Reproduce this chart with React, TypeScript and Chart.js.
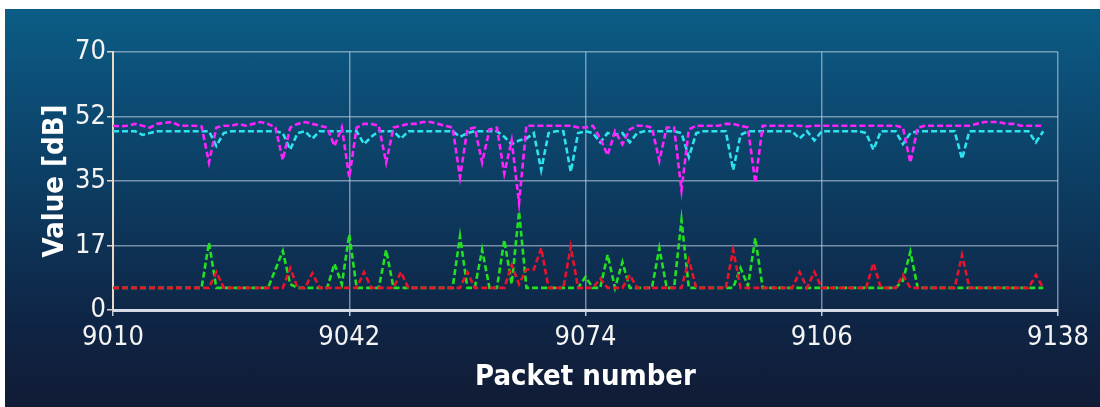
import React, { useEffect, useRef } from "react";
import { Chart, registerables } from "chart.js";

Chart.register(...registerables);

const firstPacket = 9010;
const xTickValues = [9010, 9042, 9074, 9106, 9138];
const yTickValues = [0, 17.5, 35, 52.5, 70];

// packets 9010 .. 9136
const magentaValues = [
  50, 49.8, 50, 50.5, 50, 49.5, 50.5, 50.8, 51, 50,
  50, 50, 49.8, 40, 49.5, 50, 50, 50.5, 50, 50.5,
  51, 50.5, 49.5, 40.7, 49.5, 50.5, 51, 50.5, 50, 49.5,
  44.5, 49.5, 36, 49.5, 50.5, 50.5, 50, 40, 49.5, 50,
  50.5, 50.5, 51, 51, 50.5, 50, 49.5, 36, 49, 49.5,
  40, 49, 49.5, 37, 46, 29, 50, 50, 50, 50,
  50, 50, 50, 49.5, 49.5, 50, 46.5, 42, 48.5, 45,
  49, 50, 50, 49.5, 40.5, 49.5, 49.5, 32.5, 49, 50,
  50, 50, 50, 50.5, 50.5, 50, 49.5, 34.5, 50, 50,
  50, 50, 50, 50, 49.8, 50, 50, 50, 50, 50,
  50, 50, 50, 50, 50, 50, 50, 49.5, 40, 49.5,
  50, 50, 50, 50, 50, 50, 50, 50.5, 51, 51,
  51, 50.5, 50.5, 50, 50, 50, 50,
];

const cyanValues = [
  48.5, 48.5, 48.5, 48.5, 47.5, 48, 48.5, 48.5, 48.5, 48.5,
  48.5, 48.5, 48.5, 48.5, 44.5, 48, 48.5, 48.5, 48.5, 48.5,
  48.5, 48.5, 48.5, 48, 43.5, 48, 48.5, 46.5, 48.5, 48.5,
  48.5, 48.5, 48.5, 48.5, 45, 47, 48.5, 48.5, 48.5, 46.5,
  48.5, 48.5, 48.5, 48.5, 48.5, 48.5, 48.5, 47, 48, 48.5,
  48.5, 48.5, 48.5, 47, 45, 46, 46.5, 48, 38, 48,
  48.5, 48.5, 37.5, 48, 48.5, 48, 45.5, 48, 47.5, 48,
  45.5, 48, 48.5, 48.5, 48.5, 48.5, 48.5, 48, 41.5, 48,
  48.5, 48.5, 48.5, 48.5, 38, 47.5, 48.5, 48.5, 48.5, 48.5,
  48.5, 48.5, 48.5, 46.5, 48.5, 46, 48.5, 48.5, 48.5, 48.5,
  48.5, 48.5, 48, 43.5, 48.5, 48.5, 48.5, 45, 48, 48.5,
  48.5, 48.5, 48.5, 48.5, 48.5, 41, 48.5, 48.5, 48.5, 48.5,
  48.5, 48.5, 48.5, 48.5, 48.5, 45.5, 48.5,
];

const greenValues = [
  6, 6, 6, 6, 6, 6, 6, 6, 6, 6,
  6, 6, 6, 18.3, 6, 6, 6, 6, 6, 6,
  6, 6, 11, 16, 7, 6, 6, 6, 6, 6,
  12.5, 7, 20.5, 6, 6, 6, 6, 16.3, 6, 6,
  6, 6, 6, 6, 6, 6, 6, 20, 6, 6,
  16.3, 6, 6, 19, 7, 26.7, 6, 6, 6, 6,
  6, 6, 6, 6, 9, 6, 6, 15, 6, 13,
  6, 6, 6, 6, 16.8, 6, 6, 24.4, 6, 6,
  6, 6, 6, 6, 6, 11.4, 6.5, 19.5, 6, 6,
  6, 6, 6, 6, 6, 6, 6, 6, 6, 6,
  6, 6, 6, 6, 6, 6, 6, 8, 15.8, 6,
  6, 6, 6, 6, 6, 6, 6, 6, 6, 6,
  6, 6, 6, 6, 6, 6, 6,
];

const redValues = [
  6, 6, 6, 6, 6, 6, 6, 6, 6, 6,
  6, 6, 6, 6, 10.3, 6, 6, 6, 6, 6,
  6, 6, 6, 6, 11.4, 6, 6, 10, 6, 6,
  6, 6, 6, 6, 10.3, 6, 6, 6, 6, 10.3,
  6, 6, 6, 6, 6, 6, 6, 6, 10.3, 6,
  6, 6, 6, 6, 12.2, 7, 11, 11, 16.8, 6,
  6, 6, 17.2, 6, 6, 6, 8.5, 6, 6, 6,
  9.5, 6, 6, 6, 6, 6, 6, 6, 13.6, 6,
  6, 6, 6, 6, 16.3, 6, 6, 6, 6, 6,
  6, 6, 6, 10.3, 6, 10.3, 6, 6, 6, 6,
  6, 6, 6, 12.7, 6, 6, 6, 9.5, 6, 6,
  6, 6, 6, 6, 6, 14.9, 6, 6, 6, 6,
  6, 6, 6, 6, 6, 9.5, 6,
];

const seriesNames = ["Magenta", "Cyan", "Red", "Green"];
const seriesColors = ["#ff22ff", "#2ee2ee", "#e8142c", "#22e022"];

const tickFont = { family: '"DejaVu Sans Condensed", "DejaVu Sans", sans-serif', size: 27 };
const titleFont = { family: '"DejaVu Sans Condensed", "DejaVu Sans", sans-serif', size: 29, weight: "bold" as const };

export default function App() {
  const canvasRef = useRef<HTMLCanvasElement | null>(null);

  useEffect(() => {
    if (!canvasRef.current) return;
    const toPoints = (vals: number[]) => vals.map((v, i) => ({ x: firstPacket + i, y: v }));
    const seriesValues = [magentaValues, cyanValues, redValues, greenValues];
    const chart = new Chart(canvasRef.current, {
      type: "line",
      data: {
        datasets: seriesValues.map((vals, i) => ({
          label: seriesNames[i],
          data: toPoints(vals),
          borderColor: seriesColors[i],
          backgroundColor: seriesColors[i],
          borderWidth: 2.6,
          borderDash: [6, 3],
          pointRadius: 0,
          tension: 0,
          fill: false,
        })),
      },
      options: {
        animation: false,
        responsive: false,
        layout: { padding: { top: 43, right: 42, left: 0, bottom: 0 } },
        plugins: { legend: { display: false }, tooltip: { enabled: false } },
        scales: {
          x: {
            type: "linear",
            min: 9010,
            max: 9138,
            afterBuildTicks: (scale: any) => {
              scale.ticks = xTickValues.map((v) => ({ value: v }));
            },
            afterFit: (scale: any) => {
              scale.height = 97;
            },
            ticks: {
              color: "#f4f4f4",
              font: tickFont,
              padding: 6,
              maxRotation: 0,
              autoSkip: false,
              callback: (v: any) => String(v),
            },
            grid: {
              color: "rgba(190,205,222,0.6)",
              lineWidth: 1.5,
              tickLength: 6,
              tickColor: "rgba(215,222,232,0.9)",
            },
            border: { color: "rgba(220,226,236,0.95)", width: 3 },
            title: {
              display: true,
              text: "Packet number",
              color: "#ffffff",
              font: titleFont,
              padding: { top: 0, bottom: 12 },
            },
          },
          y: {
            type: "linear",
            min: 0,
            max: 70,
            afterBuildTicks: (scale: any) => {
              scale.ticks = yTickValues.map((v) => ({ value: v }));
            },
            afterFit: (scale: any) => {
              scale.width = 108;
            },
            ticks: {
              color: "#f4f4f4",
              font: tickFont,
              padding: 1,
              autoSkip: false,
              callback: (v: any) => String(Math.floor(Number(v))),
            },
            grid: {
              color: "rgba(190,205,222,0.6)",
              lineWidth: 1.5,
              tickLength: 6,
              tickColor: "rgba(230,220,205,0.95)",
            },
            border: { color: "#e8d8c4", width: 2 },
            title: {
              display: true,
              text: "Value [dB]",
              color: "#ffffff",
              font: titleFont,
              padding: { top: 33, bottom: 0 },
            },
          },
        },
      },
    });
    return () => chart.destroy();
  }, []);

  return (
    <div
      style={{
        position: "fixed",
        left: 0,
        top: 0,
        width: 1100,
        height: 407,
        background: "#ffffff",
        overflow: "hidden",
      }}
    >
      <div
        style={{
          position: "absolute",
          left: 5,
          top: 9,
          width: 1095,
          height: 398,
          background:
            "linear-gradient(to bottom, #0b5d86 0%, #0c4a72 25%, #0d3559 55%, #0f2444 80%, #111b35 100%)",
        }}
      >
        <canvas ref={canvasRef} width={1095} height={398} style={{ display: "block" }} />
      </div>
    </div>
  );
}
